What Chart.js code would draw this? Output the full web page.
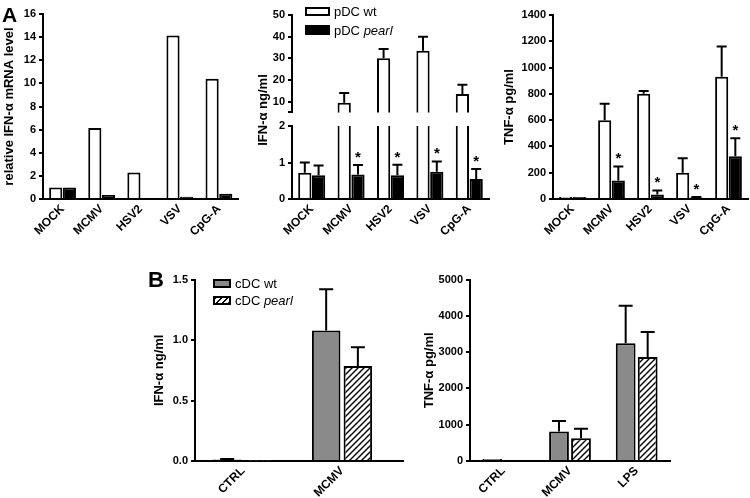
<!DOCTYPE html>
<html><head><meta charset="utf-8">
<script src="https://cdn.jsdelivr.net/npm/chart.js@4.4.1/dist/chart.umd.min.js"></script>
<style>
body{margin:0;background:#fff;}
#wrap{position:relative;width:750px;height:498px;overflow:hidden;background:#fff;font-family:'Liberation Sans',Arial,sans-serif;color:#000;}
canvas{position:absolute;}
.lbl{position:absolute;font-weight:bold;line-height:1;}
.leg{position:absolute;font-size:13px;white-space:nowrap;line-height:13px;}
.box{position:absolute;box-sizing:border-box;border:2px solid #000;}
.ytitle{position:absolute;font-weight:bold;font-size:13px;white-space:nowrap;transform:translate(-50%,-50%) rotate(-90deg);}
</style></head><body><div id="wrap">
<canvas id="a1" width="245" height="265" style="left:0;top:0"></canvas>
<canvas id="a2u" width="245" height="122" style="left:250px;top:0"></canvas>
<canvas id="a2l" width="245" height="155" style="left:250px;top:110px"></canvas>
<canvas id="a3" width="250" height="265" style="left:500px;top:0"></canvas>
<canvas id="b1" width="260" height="228" style="left:150px;top:270px"></canvas>
<canvas id="b2" width="260" height="228" style="left:420px;top:270px"></canvas>
<div class="lbl" style="left:2px;top:4px;font-size:21px">A</div>
<div class="lbl" style="left:148px;top:269px;font-size:22px">B</div>
<div class="ytitle" style="left:262px;top:110px">IFN-α ng/ml</div>
<div class="box" style="left:305px;top:7px;width:25px;height:9px;background:#fff"></div>
<div class="leg" style="left:334px;top:5px">pDC wt</div>
<div class="box" style="left:305px;top:25px;width:25px;height:10px;background:#000"></div>
<div class="leg" style="left:334px;top:24px">pDC <i>pearl</i></div>
<div class="box" style="left:213px;top:279px;width:18px;height:9px;background:#8a8a8a"></div>
<div class="leg" style="left:235px;top:277px">cDC wt</div>
<div class="box" style="left:213px;top:296px;width:18px;height:9px;background:repeating-linear-gradient(-45deg,#000 0 1.3px,#fff 1.3px 4.2px)"></div>
<div class="leg" style="left:235px;top:294px">cDC <i>pearl</i></div>
</div>
<script>
// ---------- data ----------
const aCats = ['MOCK', 'MCMV', 'HSV2', 'VSV', 'CpG-A'];

// A (left): relative IFN-alpha mRNA level
const a1Wt    = [1.0, 6.15, 2.3, 14.15, 10.4];
const a1Pearl = [1.0, 0.35, 0.08, 0.2, 0.45];

// A (middle): IFN-alpha ng/ml, broken axis
const a2Wt       = [0.72, 9.5, 30, 33.5, 13.5];
const a2WtErr    = [0.28, 4.5, 4.3, 6.5, 4.3];
const a2Pearl    = [0.65, 0.67, 0.65, 0.75, 0.55];
const a2PearlErr = [0.27, 0.26, 0.29, 0.28, 0.27];
const a2Stars    = [false, true, true, true, true];
const a2UpperTicks = [5, 10, 20, 30, 40, 50];
const a2LowerTicks = [0, 1, 2];

// A (right): TNF-alpha pg/ml
const a3Wt       = [16, 600, 800, 200, 930];
const a3WtErr    = [0, 125, 22, 110, 230];
const a3Pearl    = [16, 140, 35, 12, 325];
const a3PearlErr = [0, 108, 30, 4, 137];
const a3Stars    = [false, true, true, true, true];

// B (left): cDC IFN-alpha ng/ml
const b1Cats     = ['CTRL', 'MCMV'];
const b1Wt       = [0.012, 1.08];
const b1WtErr    = [0.005, 0.34];
const b1Pearl    = [0.005, 0.785];
const b1PearlErr = [0, 0.155];

// B (right): cDC TNF-alpha pg/ml
const b2Cats     = ['CTRL', 'MCMV', 'LPS'];
const b2Wt       = [55, 810, 3245];
const b2WtErr    = [0, 290, 1035];
const b2Pearl    = [0, 625, 2865];
const b2PearlErr = [0, 265, 690];

// ---------- setup ----------
const FONT = "'Liberation Sans', Arial, sans-serif";
Chart.defaults.font.family = FONT;
Chart.defaults.color = '#000';

const errPlugin = {
  id: 'errbars',
  afterDatasetsDraw(chart) {
    const ctx = chart.ctx, ca = chart.chartArea;
    ctx.save();
    ctx.beginPath();
    ctx.rect(ca.left - 10, ca.top, ca.right - ca.left + 20, ca.bottom - ca.top);
    ctx.clip();
    chart.data.datasets.forEach((d, di) => {
      if (!d.errors) return;
      const meta = chart.getDatasetMeta(di);
      const ys = chart.scales[meta.yAxisID];
      meta.data.forEach((bar, j) => {
        const raw = d.data[j];
        const v = (raw !== null && typeof raw === 'object') ? raw.y : raw;
        const e = d.errors[j] || 0;
        const yTop = ys.getPixelForValue(v + e);
        const cw = d.capHalf || 5;
        ctx.strokeStyle = '#000';
        ctx.lineWidth = 2;
        if (e > 0) {
          ctx.beginPath();
          ctx.moveTo(bar.x, bar.y);
          ctx.lineTo(bar.x, yTop);
          ctx.moveTo(bar.x - cw, yTop);
          ctx.lineTo(bar.x + cw, yTop);
          ctx.stroke();
        }
        if (d.stars && d.stars[j]) {
          ctx.fillStyle = '#000';
          ctx.font = 'bold 15px ' + FONT;
          ctx.textAlign = 'center';
          ctx.textBaseline = 'alphabetic';
          ctx.fillText('*', bar.x, yTop - 3);
        }
      });
    });
    ctx.restore();
  }
};

function yScale(o) {
  const s = {
    type: 'linear', min: o.min, max: o.max, bounds: 'data',
    ticks: { color: '#000', font: { size: 11, weight: 'bold' }, padding: 3, autoSkip: false,
             stepSize: o.step, callback: o.fmt || (v => v) },
    grid: { display: true, drawOnChartArea: false, drawTicks: true, tickLength: 4, color: '#000', lineWidth: 2 },
    border: { display: true, color: '#000', width: 2 },
    title: o.title ? { display: true, text: o.title, color: '#000', font: { size: 13, weight: 'bold' }, padding: { top: 2, bottom: 2 } } : { display: false },
    afterFit: sc => { sc.width = o.width; }
  };
  if (o.ticksList) s.afterBuildTicks = sc => { sc.ticks = o.ticksList.map(v => ({ value: v })); };
  return s;
}

function xCat(height, display) {
  return {
    type: 'category', offset: true, display: display !== false,
    ticks: { color: '#000', font: { size: 12, weight: 'bold' }, minRotation: 45, maxRotation: 45, autoSkip: false, padding: 3 },
    grid: { display: false, drawTicks: false },
    border: { display: true, color: '#000', width: 2 },
    afterFit: sc => { sc.height = height; }
  };
}

function bars(data, errs, stars, fill, extra) {
  return Object.assign({
    data: data, errors: errs, stars: stars,
    backgroundColor: fill, borderColor: '#000', borderWidth: 2,
    categoryPercentage: 0.7, barPercentage: 0.96, capHalf: 5
  }, extra || {});
}

function make(id, labels, datasets, pad, x, y) {
  return new Chart(document.getElementById(id), {
    type: 'bar',
    data: { labels: labels, datasets: datasets },
    options: {
      responsive: false, animation: false, devicePixelRatio: 1,
      layout: { padding: pad },
      plugins: { legend: { display: false }, tooltip: { enabled: false } },
      scales: { x: x, y: y }
    },
    plugins: [errPlugin]
  });
}

// A left
make('a1', aCats,
  [bars(a1Wt, null, null, '#fff'), bars(a1Pearl, null, null, '#000')],
  { top: 14, right: 6.5, left: 0, bottom: 0 },
  xCat(66),
  yScale({ min: 0, max: 16, step: 2, width: 43, title: 'relative IFN-α mRNA level' }));

// A middle upper (broken axis top segment)
make('a2u', aCats,
  [bars(a2Wt, a2WtErr, null, '#fff', { clip: 0 }), bars(a2Pearl, a2PearlErr, null, '#000', { clip: 0 })],
  { top: 15, right: 6, left: 0, bottom: 8 },
  xCat(0, false),
  yScale({ min: 5, max: 50, width: 42, ticksList: a2UpperTicks, fmt: v => (v === a2UpperTicks[0] ? '' : v) }));

// A middle lower
make('a2l', aCats,
  [bars(a2Wt, a2WtErr, null, '#fff', { clip: 0 }), bars(a2Pearl, a2PearlErr, a2Stars, '#000', { clip: 0 })],
  { top: 16, right: 6, left: 0, bottom: 0 },
  xCat(66),
  yScale({ min: 0, max: 2, width: 42, ticksList: a2LowerTicks }));

// A right
make('a3', aCats,
  [bars(a3Wt, a3WtErr, null, '#fff'), bars(a3Pearl, a3PearlErr, a3Stars, '#000')],
  { top: 15, right: 2, left: 0, bottom: 0 },
  xCat(66),
  yScale({ min: 0, max: 1400, step: 200, width: 53, title: 'TNF-α pg/ml' }));

// hatch pattern for pearl cDC
function hatch(id) {
  const c = document.createElement('canvas');
  c.width = 6; c.height = 6;
  const g = c.getContext('2d');
  g.fillStyle = '#fff'; g.fillRect(0, 0, 6, 6);
  g.strokeStyle = '#000'; g.lineWidth = 1.4;
  g.beginPath();
  g.moveTo(-1, 7); g.lineTo(7, -1);
  g.moveTo(-1, 1); g.lineTo(1, -1);
  g.moveTo(5, 7); g.lineTo(7, 5);
  g.stroke();
  return document.getElementById(id).getContext('2d').createPattern(c, 'repeat');
}

function xLin(cats, min, max, height) {
  return {
    type: 'linear', min: min, max: max, bounds: 'data', offset: false,
    afterBuildTicks: sc => { sc.ticks = cats.map((c, i) => ({ value: i })); },
    ticks: { color: '#000', font: { size: 12, weight: 'bold' }, minRotation: 45, maxRotation: 45, autoSkip: false, padding: 3,
             callback: v => cats[v] },
    grid: { display: false, drawTicks: false },
    border: { display: true, color: '#000', width: 2 },
    afterFit: sc => { sc.height = height; }
  };
}
const toXY = arr => arr.map((v, i) => ({ x: i, y: v }));
const bOpts = { categoryPercentage: 0.64, barPercentage: 0.9, capHalf: 7 };

make('b1', null,
  [bars(toXY(b1Wt), b1WtErr, null, '#8a8a8a', bOpts), bars(toXY(b1Pearl), b1PearlErr, null, hatch('b1'), bOpts)],
  { top: 8, right: 7, left: 0, bottom: 0 },
  xLin(b1Cats, -0.485, 1.616, 37),
  yScale({ min: 0, max: 1.5, step: 0.5, width: 45, title: 'IFN-α ng/ml', fmt: v => Number(v).toFixed(1) }));

const b2Opts = { categoryPercentage: 0.66, barPercentage: 0.9, capHalf: 7 };
make('b2', b2Cats,
  [bars(b2Wt, b2WtErr, null, '#8a8a8a', b2Opts), bars(b2Pearl, b2PearlErr, null, hatch('b2'), b2Opts)],
  { top: 7, right: 10, left: 0, bottom: 0 },
  xCat(37),
  yScale({ min: 0, max: 5000, step: 1000, width: 50, title: 'TNF-α pg/ml' }));
</script>
</body></html>
